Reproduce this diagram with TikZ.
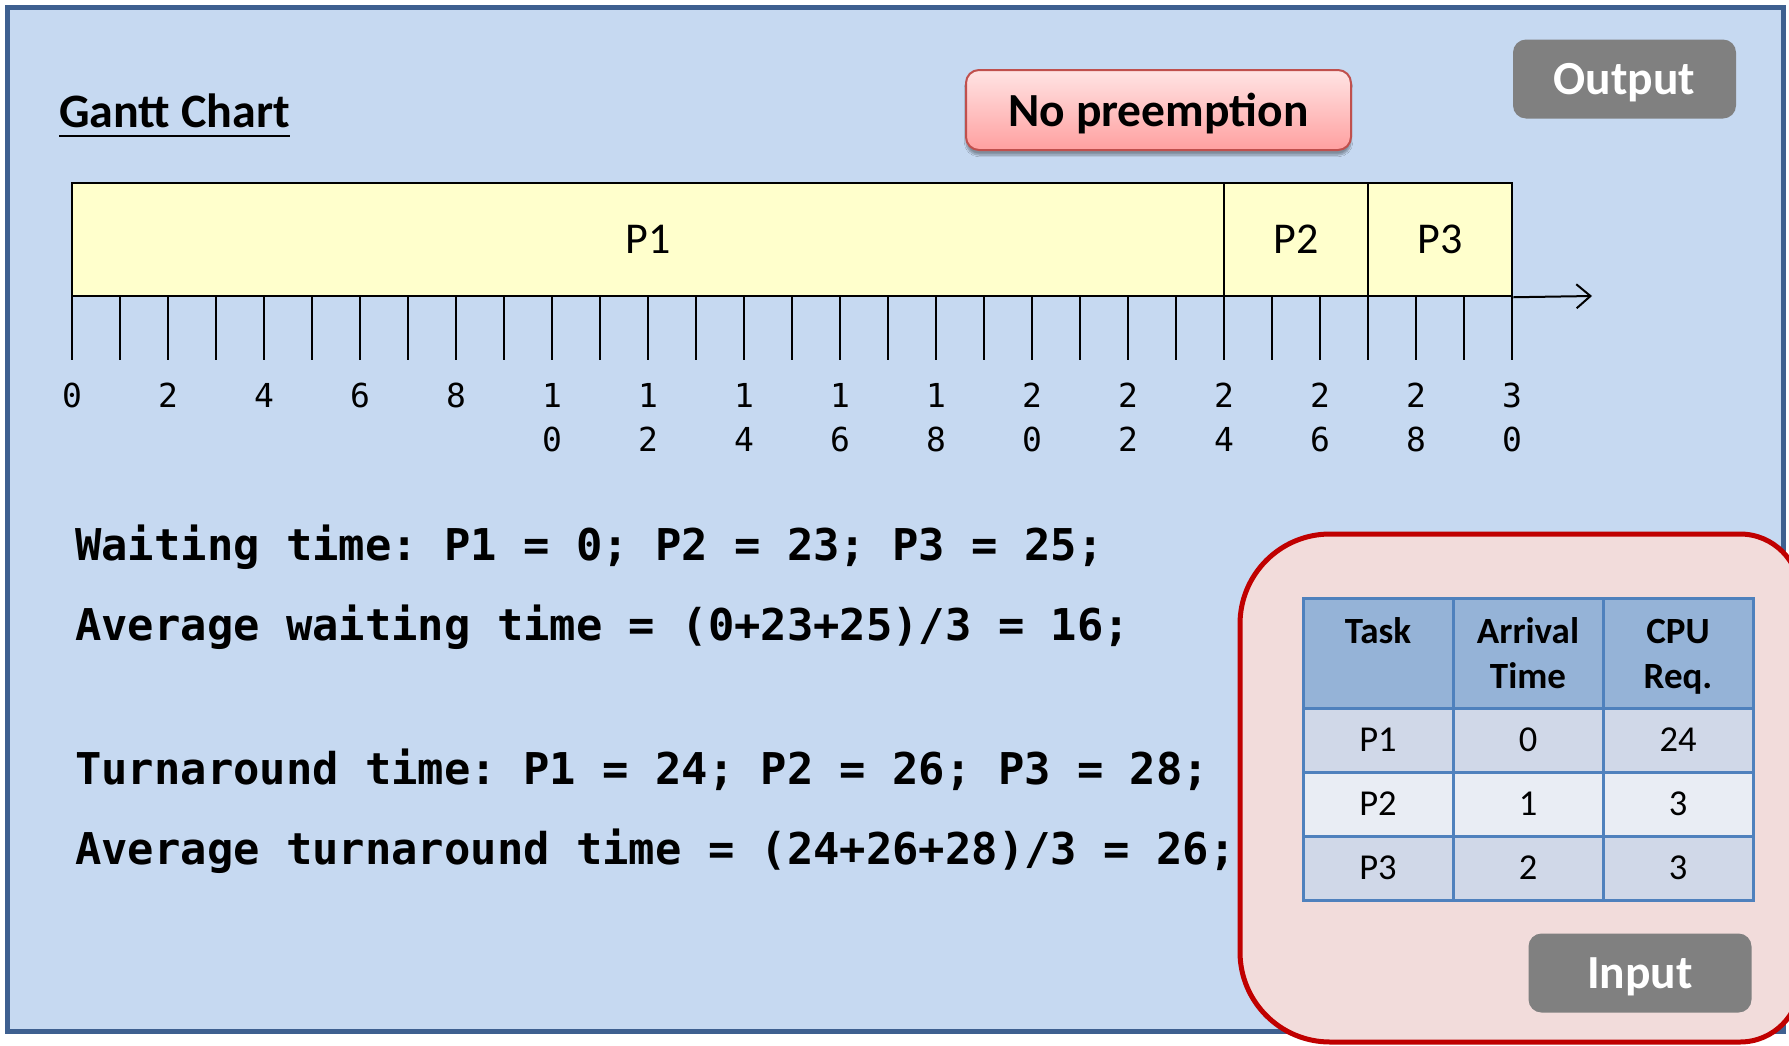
\documentclass[tikz,border=0pt]{standalone}
\usepackage{fontspec}
\usetikzlibrary{arrows.meta,shadows.blur}
\newfontfamily\carlito{Carlito}
\newfontfamily\monof{DejaVu Sans Mono}
\definecolor{bgblue}{HTML}{C6D9F1}
\definecolor{framec}{HTML}{3E6090}
\definecolor{gfill}{HTML}{FFFFCC}
\definecolor{hdr}{HTML}{95B3D7}
\definecolor{rowa}{HTML}{D0D8E8}
\definecolor{rowb}{HTML}{E9EDF4}
\definecolor{gridc}{HTML}{4F81BD}
\definecolor{redfill}{HTML}{F2DCDB}
\definecolor{redline}{HTML}{C00000}
\definecolor{grayb}{HTML}{808080}
\definecolor{pinktop}{HTML}{FFE4E4}
\definecolor{pinkbot}{HTML}{FFA0A0}
\definecolor{pinkline}{HTML}{C0504D}
\begin{document}
\begin{tikzpicture}[x=1pt,y=-1pt,
  outerframe/.style={fill=bgblue,draw=framec,line width=5pt},
  gbar/.style={draw=black,line width=2.5pt,fill=gfill,inner sep=0pt,minimum height=113pt,font=\carlito\fontsize{44}{52}\selectfont},
  tickline/.style={line width=2pt},
  ticklab/.style={inner sep=0pt,font=\monof\fontsize{33}{38}\selectfont},
  monoline/.style={inner sep=0pt,anchor=base west,font=\monof\bfseries\fontsize{43.8}{52}\selectfont\frenchspacing},
  gtitle/.style={inner sep=0pt,font=\carlito\bfseries\fontsize{48}{57}\selectfont},
  graybtn/.style={fill=grayb,rounded corners=13pt,inner sep=0pt,minimum width=223pt,minimum height=79pt,text=white,text depth=0pt,font=\carlito\bfseries\fontsize{47.5}{56}\selectfont},
  nopre/.style={draw=pinkline,line width=2pt,rounded corners=13pt,top color=pinktop,bottom color=pinkbot,minimum width=385pt,minimum height=80pt,inner sep=0pt,text depth=0pt,font=\carlito\bfseries\fontsize{47.5}{56}\selectfont,blur shadow={shadow xshift=0pt,shadow yshift=-5pt,shadow blur steps=8,shadow opacity=35}},
  redbox/.style={fill=redfill,draw=redline,line width=5pt},
  cell/.style={draw=gridc,line width=3pt,inner sep=0pt,minimum width=150pt},
  htxt/.style={inner sep=0pt,anchor=base,font=\carlito\bfseries\fontsize{37}{44}\selectfont},
  btxt/.style={font=\carlito\fontsize{36.5}{43}\selectfont},
]
\fill[white] (0,0) rectangle (1789,1045);
\useasboundingbox (0,0) rectangle (1789,1045);
\draw[outerframe] (7.5,7.5) rectangle (1783,1031);

% title
\node[gtitle,anchor=base west] (gc) at (59,127) {Gantt Chart};
\draw[line width=2.5pt] ([yshift=-9pt]gc.base west) -- ([yshift=-9pt]gc.base east);

% buttons
\node[nopre] (np) at (1158.5,110) {No preemption};
\node[graybtn] (out) at (1624.5,79) {Output};

% gantt
\foreach \n in {0,...,30} \draw[tickline] ({72+48*\n},296) -- ({72+48*\n},360);
\node[gbar,minimum width=1152pt] (p1) at (648,239.5) {P1};
\node[gbar,minimum width=144pt] (p2) at (1296,239.5) {P2};
\node[gbar,minimum width=144pt] (p3) at (1440,239.5) {P3};
\coordinate (axend) at (1592,296);
\draw[line width=2pt,-{Straight Barb[length=14pt,width=24pt]}] (p3.south east) -- (axend);

\foreach \n in {0,2,4,6,8} \node[ticklab] (t\n) at ({72+48*\n},395) {\n};
\foreach \n/\a/\b in {10/1/0,12/1/2,14/1/4,16/1/6,18/1/8,20/2/0,22/2/2,24/2/4,26/2/6,28/2/8,30/3/0} {
  \node[ticklab] (ta\n) at ({72+48*\n},395) {\a};
  \node[ticklab] (tb\n) at ({72+48*\n},439) {\b};
}

% text lines
\node[monoline] (w1) at (75,560) {Waiting time: P1 = 0; P2 = 23; P3 = 25;};
\node[monoline] (w2) at (75,640) {Average waiting time = (0+23+25)/3 = 16;};
\node[monoline] (w3) at (75,784) {Turnaround time: P1 = 24; P2 = 26; P3 = 28;};
\node[monoline] (w4) at (75,864) {Average turnaround time = (24+26+28)/3 = 26;};

% input box
\draw[redbox] (1240,624) arc (180:270:90) -- (1740,534) arc (270:360:60) -- (1800,982)
  arc (0:90:60) -- (1330,1042) arc (90:180:90) -- cycle;

% table
\node[cell,fill=hdr,minimum height=110pt] (h1) at (1378,653) {};
\node[cell,fill=hdr,minimum height=110pt] (h2) at (1528,653) {};
\node[cell,fill=hdr,minimum height=110pt] (h3) at (1678,653) {};
\node[htxt] (h1a) at (1378,643) {Task};
\node[htxt] (h2a) at (1528,643) {Arrival};
\node[htxt] (h2b) at (1528,688) {Time};
\node[htxt] (h3a) at (1678,643) {CPU};
\node[htxt] (h3b) at (1678,688) {Req.};

\node[cell,btxt,fill=rowa,minimum height=64pt] (c11) at (1378,740) {P1};
\node[cell,btxt,fill=rowa,minimum height=64pt] (c12) at (1528,740) {0};
\node[cell,btxt,fill=rowa,minimum height=64pt] (c13) at (1678,740) {24};
\node[cell,btxt,fill=rowb,minimum height=64pt] (c21) at (1378,804) {P2};
\node[cell,btxt,fill=rowb,minimum height=64pt] (c22) at (1528,804) {1};
\node[cell,btxt,fill=rowb,minimum height=64pt] (c23) at (1678,804) {3};
\node[cell,btxt,fill=rowa,minimum height=64pt] (c31) at (1378,868) {P3};
\node[cell,btxt,fill=rowa,minimum height=64pt] (c32) at (1528,868) {2};
\node[cell,btxt,fill=rowa,minimum height=64pt] (c33) at (1678,868) {3};

\node[graybtn] (inp) at (1640,973) {Input};
\end{tikzpicture}
\end{document}
